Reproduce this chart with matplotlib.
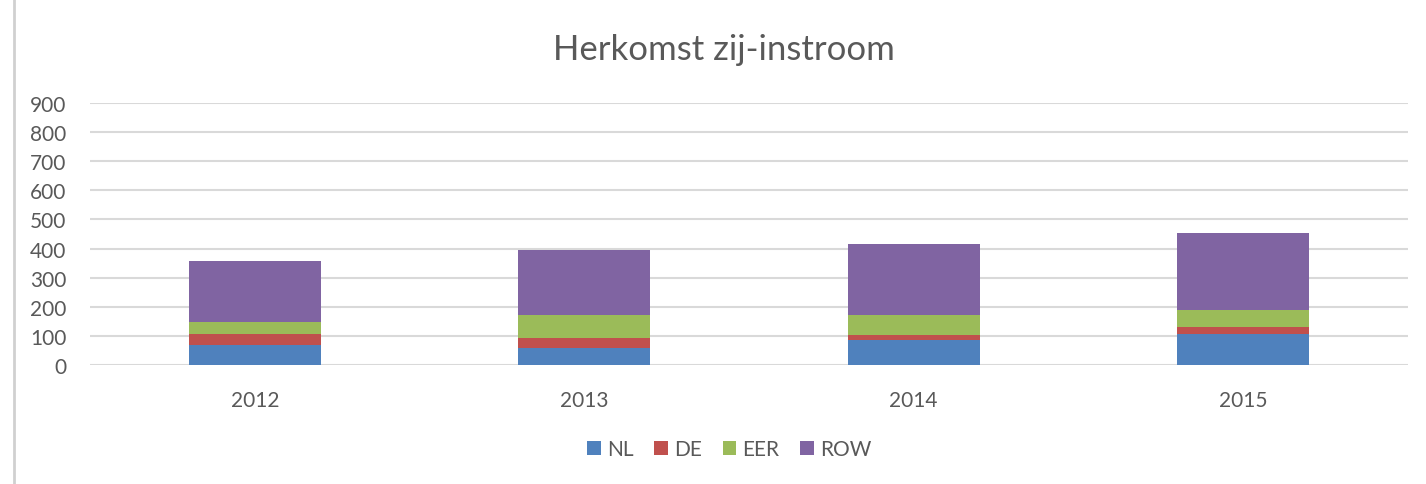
import matplotlib.pyplot as plt
import numpy as np
from matplotlib.lines import Line2D

years = ['2012', '2013', '2014', '2015']
nl = [70, 57, 86, 105]
de = [36, 37, 17, 25]
eer = [42, 78, 68, 59]
row = [210, 224, 245, 264]

series = [('NL', nl, '#4F81BD'), ('DE', de, '#C0504D'),
          ('EER', eer, '#9BBB59'), ('ROW', row, '#8064A2')]

plt.rcParams['font.family'] = ['Lato', 'DejaVu Sans']
text_color = '#595959'

fig = plt.figure(figsize=(14.26, 4.85), dpi=100)
ax = fig.add_axes([90 / 1426, 1 - 366 / 485, (1408 - 90) / 1426, (366 - 104) / 485])

x = np.arange(len(years))
bottom = np.zeros(len(years))
for name, vals, color in series:
    ax.bar(x, vals, width=0.4, bottom=bottom, color=color, label=name, zorder=3)
    bottom = bottom + np.array(vals)

ax.set_xlim(-0.5, len(years) - 0.5)
ax.set_ylim(0, 900)
ax.set_yticks(np.arange(0, 901, 100))
ax.set_xticks(x)
ax.set_xticklabels(years)
ax.tick_params(axis='both', length=0, labelsize=15, colors=text_color)
ax.tick_params(axis='y', pad=17)
ax.tick_params(axis='x', pad=18)
ax.grid(axis='y', color='#d9d9d9', linewidth=1.5, zorder=0)
for s in ax.spines.values():
    s.set_visible(False)

fig.text(0.508, 1 - 50 / 485, 'Herkomst zij-instroom', ha='center', va='center',
         fontsize=25, color=text_color)

ax.legend(loc='center', bbox_to_anchor=(0.485, (366 - 450) / 262), ncol=4, frameon=False,
          fontsize=15, labelcolor=text_color, handlelength=0.65, handleheight=0.65,
          handletextpad=0.3, columnspacing=1.0)

fig.add_artist(Line2D([14 / 1426, 14 / 1426], [0, 1], color='#d0d0d0', linewidth=2))

fig.savefig('out.png', dpi=100)
